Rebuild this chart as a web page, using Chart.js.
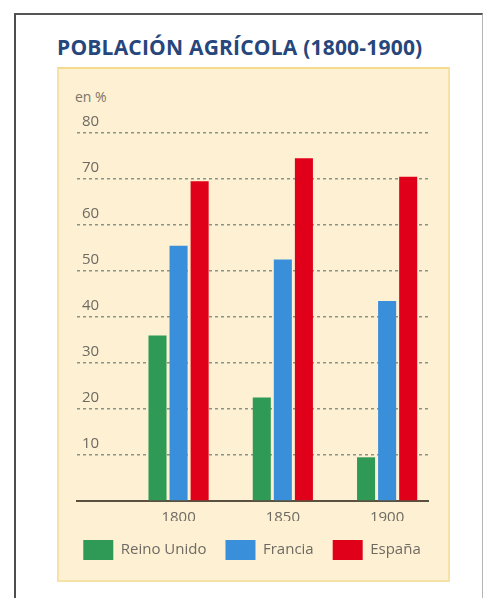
<!DOCTYPE html>
<html>
<head>
<meta charset="utf-8">
<script src="https://cdn.jsdelivr.net/npm/chart.js@4.4.0/dist/chart.umd.min.js"></script>
<style>
  html, body { margin: 0; padding: 0; background: #ffffff; width: 485px; height: 598px; overflow: hidden; }
  #frame { position: absolute; left: 14px; top: 13px; width: 466px; height: 600px;
           border-left: 2px solid #4d4d4d; border-top: 2px solid #555555; border-right: 1px solid #b5b5b5; }
  #panel { position: absolute; left: 57px; top: 67px; width: 389px; height: 511px;
           background: #fdf0d3; border: 2px solid #f6e1a6; border-top-color: #f5d98f; }
  #title { position: absolute; left: 57px; top: 33px; font-family: "Open Sans", sans-serif; font-weight: 700;
           font-size: 21px; color: #26467c; white-space: nowrap; letter-spacing: 0.2px; }
  #unit { position: absolute; left: 75px; top: 87px; font-family: "Open Sans", sans-serif; font-size: 14px; color: #7a766c; }
  #wrap { position: absolute; left: 0; top: 0; width: 485px; height: 598px; }
</style>
</head>
<body>
<div id="frame"></div>
<div id="panel"></div>
<div id="title">POBLACIÓN AGRÍCOLA (1800-1900)</div>
<div id="unit">en %</div>
<div id="wrap"><canvas id="c" width="485" height="598"></canvas></div>
<script>
const years = [1800, 1850, 1900];
const categories = ['1800', '1850', '1900'];
const seriesNames = ['Reino Unido', 'Francia', 'España'];
const reinoUnido = [36, 22.5, 9.5];
const francia = [55.5, 52.5, 43.5];
const espana = [69.5, 74.5, 70.5];
const yTicks = [0, 10, 20, 30, 40, 50, 60, 70, 80];
const colors = ['#2f9a55', '#3a8fdb', '#e1001a'];

const seriesValues = [reinoUnido, francia, espana];
const datasets = seriesNames.map((name, s) => ({
  label: name,
  data: years.map((yr, i) => ({ x: yr, y: seriesValues[s][i] })),
  backgroundColor: colors[s],
  borderWidth: 0,
  categoryPercentage: 0.606,
  barPercentage: 0.857
}));

new Chart(document.getElementById('c'), {
  type: 'bar',
  data: { datasets },
  options: {
    responsive: false,
    animation: false,
    layout: { padding: { left: 39, right: 20, top: 133, bottom: 28 } },
    plugins: {
      title: { display: false },
      tooltip: { enabled: false },
      legend: {
        position: 'bottom',
        labels: {
          boxWidth: 30,
          boxHeight: 20,
          padding: 19,
          color: '#6e6a62',
          font: { family: 'Open Sans', size: 15 }
        }
      }
    },
    scales: {
      x: {
        type: 'linear',
        offset: false,
        min: 1751.3,
        max: 1919.6,
        afterBuildTicks: (axis) => { axis.ticks = years.map(v => ({ value: v })); },
        afterFit: (axis) => { axis.height = 20; },
        grid: { display: false, drawTicks: false },
        border: { display: true, color: '#5a5040', width: 2 },
        ticks: {
          padding: 8,
          color: '#6e6a62',
          font: { family: 'Open Sans', size: 15 },
          callback: (v) => categories[years.indexOf(v)] ?? ''
        }
      },
      y: {
        min: 0,
        max: 80,
        afterBuildTicks: (axis) => { axis.ticks = yTicks.map(v => ({ value: v })); },
        afterFit: (axis) => { axis.width = 38; },
        grid: {
          drawTicks: false,
          lineWidth: 1.5,
          color: (ctx) => ctx.tick && ctx.tick.value === 0 ? 'rgba(0,0,0,0)' : '#8a9385'
        },
        border: { display: false, dash: [3, 3] },
        ticks: {
          mirror: true,
          padding: 5,
          labelOffset: -11.5,
          color: '#6e6a62',
          font: { family: 'Open Sans', size: 15 },
          callback: (v) => v === 0 ? '' : String(v)
        }
      },
      yRight: {
        position: 'right',
        display: true,
        afterFit: (axis) => { axis.width = 37; },
        grid: { display: false, drawTicks: false },
        border: { display: false },
        ticks: { display: false }
      }
    }
  }
});
</script>
</body>
</html>
